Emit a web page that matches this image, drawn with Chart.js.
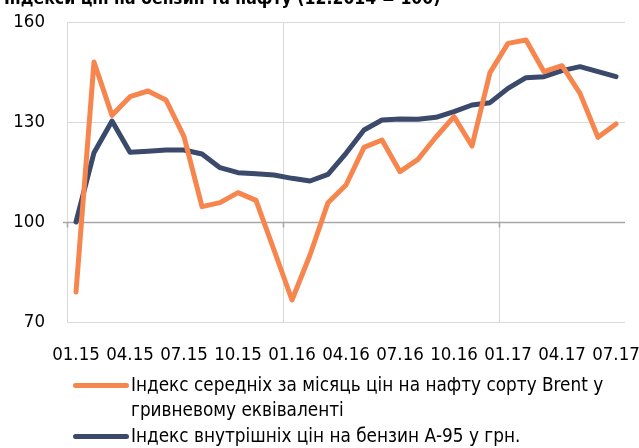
<!DOCTYPE html>
<html>
<head>
<meta charset="utf-8">
<script src="https://cdn.jsdelivr.net/npm/chart.js@4.4.0/dist/chart.umd.min.js"></script>
<style>
  html, body { margin:0; padding:0; background:#fff; }
  #wrap { position:relative; width:639px; height:448px; overflow:hidden; font-family:"DejaVu Sans Condensed","Liberation Sans",sans-serif; }
  #title { position:absolute; left:4px; top:-12px; font-size:17.5px; line-height:20px; font-weight:bold; color:#000; white-space:nowrap; }
  canvas { position:absolute; left:0; top:0; }
  .leg { position:absolute; left:131px; font-size:18.8px; line-height:25px; color:#000; white-space:nowrap; }
  .sw { position:absolute; left:73px; width:56px; height:5px; border-radius:3px; }
</style>
</head>
<body>
<div id="wrap">
  <canvas id="c" width="639" height="448"></canvas>
  <div id="title">Індекси цін на бензин та нафту (12.2014 = 100)</div>
  <div class="sw" id="sw1" style="top:383px;"></div>
  <div class="leg" id="lg1" style="top:372px;"></div>
  <div class="leg" id="lg1b" style="top:397px;"></div>
  <div class="sw" id="sw2" style="top:434px;"></div>
  <div class="leg" id="lg2" style="top:423px;"></div>
</div>
<script>
const categories = ["01.15","02.15","03.15","04.15","05.15","06.15","07.15","08.15","09.15","10.15","11.15","12.15",
  "01.16","02.16","03.16","04.16","05.16","06.16","07.16","08.16","09.16","10.16","11.16","12.16",
  "01.17","02.17","03.17","04.17","05.17","06.17","07.17"];
const brentIndex = [79,148,132,137.6,139.3,136.6,125.6,104.6,105.8,108.8,106.5,91.6,
  76.6,90.1,105.8,111.1,122.4,124.6,115.1,118.8,125.5,131.6,122.8,144.8,
  153.6,154.6,145.1,146.9,138.6,125.4,129.4];
const a95Index = [100,120.8,130.3,120.9,121.2,121.6,121.6,120.4,116.3,114.8,114.5,114.1,
  113.1,112.3,114.3,120.6,127.6,130.6,130.9,130.8,131.4,133.1,135.1,135.8,
  140.1,143.3,143.6,145.4,146.6,145.1,143.6];
const yTicks = [70,100,130,160];
const seriesNames = ["Індекс середніх за місяць цін на нафту сорту Brent у", "гривневому еквіваленті", "Індекс внутрішніх цін на бензин А-95 у грн."];
const colors = ["#F7864E", "#3B4A6B"];

document.getElementById('lg1').textContent = seriesNames[0];
document.getElementById('lg1b').textContent = seriesNames[1];
document.getElementById('lg2').textContent = seriesNames[2];
document.getElementById('sw1').style.background = colors[0];
document.getElementById('sw2').style.background = colors[1];

const FONT = '"DejaVu Sans Condensed","Liberation Sans",sans-serif';

const axisTicks = {
  id:'axisTicks',
  beforeDatasetsDraw(chart){
    const x = chart.scales.x, y = chart.scales.y;
    const ctx = chart.ctx;
    const y0 = Math.round(y.getPixelForValue(100)) + 0.5;
    const step = (x.right - x.left) / categories.length;
    ctx.save();
    ctx.strokeStyle = '#a6a6a6';
    ctx.lineWidth = 1.5;
    ctx.beginPath();
    ctx.moveTo(x.left - 4, y0); ctx.lineTo(x.right, y0);
    for (let i = 0; i < categories.length; i += 12) {
      const px = Math.round(x.left + i*step) + 0.5;
      ctx.moveTo(px, y0); ctx.lineTo(px, y0 + 5);
    }
    ctx.stroke();
    ctx.restore();
  }
};

new Chart(document.getElementById('c'), {
  type:'line',
  data:{
    labels:categories,
    datasets:[
      {label:seriesNames[0], data:brentIndex, borderColor:colors[0], backgroundColor:colors[0], borderWidth:5, pointRadius:0, tension:0, borderCapStyle:'round', borderJoinStyle:'round'},
      {label:seriesNames[2], data:a95Index, borderColor:colors[1], backgroundColor:colors[1], borderWidth:5, pointRadius:0, tension:0, borderCapStyle:'round', borderJoinStyle:'round'}
    ]
  },
  options:{
    responsive:false,
    animation:false,
    layout:{padding:{top:22, right:14, bottom:81, left:0}},
    plugins:{legend:{display:false}, title:{display:false}, tooltip:{enabled:false}},
    scales:{
      x:{
        offset:true,
        border:{display:false},
        grid:{offset:true, drawTicks:false, lineWidth:1,
          color:(c)=> (c.index !== undefined && c.index % 12 === 0) ? '#d9d9d9' : 'rgba(0,0,0,0)'},
        ticks:{autoSkip:false, maxRotation:0, minRotation:0, padding:22, color:'#000',
          font:{family:FONT, size:18.5},
          callback:function(v, i){ return i % 3 === 0 ? categories[i] : ''; }},
        afterFit:(s)=>{ s.height = 45; s.paddingLeft = 0; s.paddingRight = 0; }
      },
      y:{
        min:70, max:160,
        border:{display:false},
        afterBuildTicks:(s)=>{ s.ticks = yTicks.map(v=>({value:v})); },
        grid:{drawTicks:false, lineWidth:1, color:(c)=> c.tick && c.tick.value === 100 ? 'rgba(0,0,0,0)' : '#d9d9d9'},
        ticks:{padding:22, color:'#000', font:{family:FONT, size:18.5}},
        afterFit:(s)=>{ s.width = 67; s.paddingTop = 0; s.paddingBottom = 0; }
      }
    }
  },
  plugins:[axisTicks]
});
</script>
</body>
</html>
